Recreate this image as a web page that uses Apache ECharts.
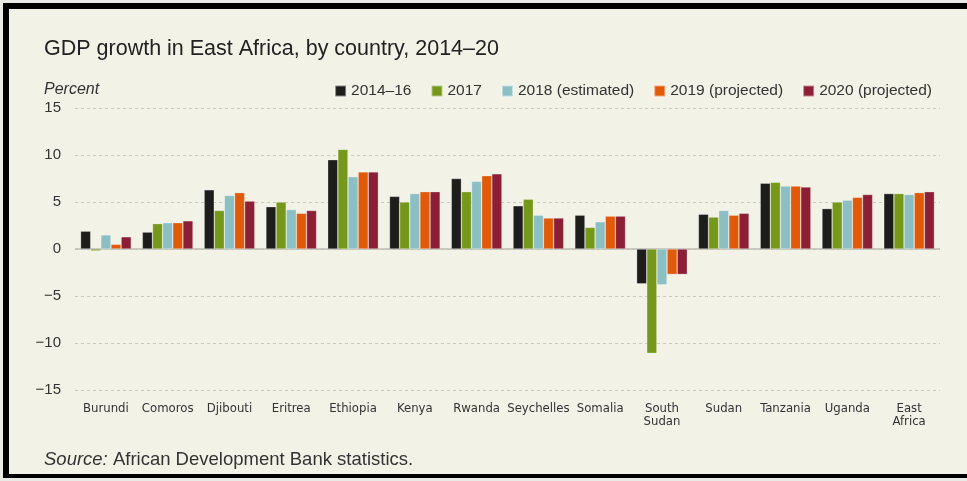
<!DOCTYPE html>
<html>
<head>
<meta charset="utf-8">
<script src="https://cdn.jsdelivr.net/npm/echarts@6/dist/echarts.min.js"></script>
<style>
html,body{margin:0;padding:0;background:#e9e9e6;}
#frame{position:absolute;left:3px;top:3px;width:964px;height:475px;border-left:6px solid #000;border-top:6px solid #000;border-bottom:4px solid #000;box-sizing:border-box;background:#f3f2e7;}
#chart{position:absolute;left:0;top:0;width:967px;height:481px;}
</style>
</head>
<body>
<div id="frame"></div>
<div id="chart"></div>
<script>
const categories = ['Burundi','Comoros','Djibouti','Eritrea','Ethiopia','Kenya','Rwanda','Seychelles','Somalia','South\nSudan','Sudan','Tanzania','Uganda','East\nAfrica'];
const seriesNames = ['2014–16','2017','2018 (estimated)','2019 (projected)','2020 (projected)'];
const v2014_16 = [1.9,1.8,6.3,4.5,9.5,5.6,7.5,4.6,3.6,-3.7,3.7,7.0,4.3,5.9];
const v2017    = [-0.2,2.7,4.1,5.0,10.6,5.0,6.1,5.3,2.3,-11.1,3.4,7.1,5.0,5.9];
const v2018    = [1.5,2.8,5.7,4.2,7.7,5.9,7.2,3.6,2.9,-3.8,4.1,6.7,5.2,5.8];
const v2019    = [0.5,2.8,6.0,3.8,8.2,6.1,7.8,3.3,3.5,-2.7,3.6,6.7,5.5,6.0];
const v2020    = [1.3,3.0,5.1,4.1,8.2,6.1,8.0,3.3,3.5,-2.7,3.8,6.6,5.8,6.1];
const yTicks = [-15,-10,-5,0,5,10,15];
const colors = ['#1d1d1b','#76981a','#8bbfc4','#e05a0a','#8c1f35'];
const values = [v2014_16,v2017,v2018,v2019,v2020];

const font = '"Liberation Sans", Arial, sans-serif';
const narrow = '"Liberation Sans Narrow", "DejaVu Sans Condensed", sans-serif';

const chart = echarts.init(document.getElementById('chart'));
const series = seriesNames.map((n,i)=>({
  name:n, type:'bar', data:values[i],
  barGap:'0%', barCategoryGap:'18%',
  itemStyle:{color:colors[i], borderColor:'rgba(255,255,255,0.45)', borderWidth:0.6},
  emphasis:{disabled:true},
  markLine: i===0 ? {silent:true, symbol:'none', label:{show:false}, lineStyle:{color:'#bdbdb5', type:'solid', width:1.5}, data:[{yAxis:0}], z:1} : undefined
}));
chart.setOption({
  backgroundColor:'transparent',
  animation:false,
  title:[
    {text:'GDP growth in East Africa, by country, 2014–20', left:39, top:33, textStyle:{fontFamily:font, fontSize:21.5, fontWeight:'normal', color:'#222'}},
    {text:'Percent', left:39, top:77, textStyle:{fontFamily:font, fontSize:16, fontStyle:'italic', fontWeight:'normal', color:'#333'}},
    {text:'{i|Source:} African Development Bank statistics.', left:39, top:445, textStyle:{fontFamily:font, fontSize:18.5, fontWeight:'normal', color:'#333', rich:{i:{fontFamily:font, fontSize:18.5, fontStyle:'italic', color:'#333'}}}}
  ],
  legend:{right:30, top:78, itemWidth:11, itemHeight:11, itemGap:19, icon:'rect', textStyle:{fontFamily:font, fontSize:15.5, color:'#333'}, data:seriesNames},
  grid:{left:75, right:27, top:108, bottom:91},
  xAxis:{type:'category', data:categories, axisLine:{show:false}, axisTick:{show:false},
    axisLabel:{interval:0, margin:12, fontFamily:narrow, fontSize:13, color:'#333', lineHeight:13}},
  yAxis:{type:'value', min:-15, max:15, interval:5,
    axisLabel:{margin:14, fontFamily:font, fontSize:15, color:'#333', formatter:v=>String(v).replace('-','−')},
    axisLine:{show:false}, axisTick:{show:false},
    splitLine:{lineStyle:{color:'#c9c9c0', type:[3,3], width:1}}},
  series:series
});
</script>
</body>
</html>
